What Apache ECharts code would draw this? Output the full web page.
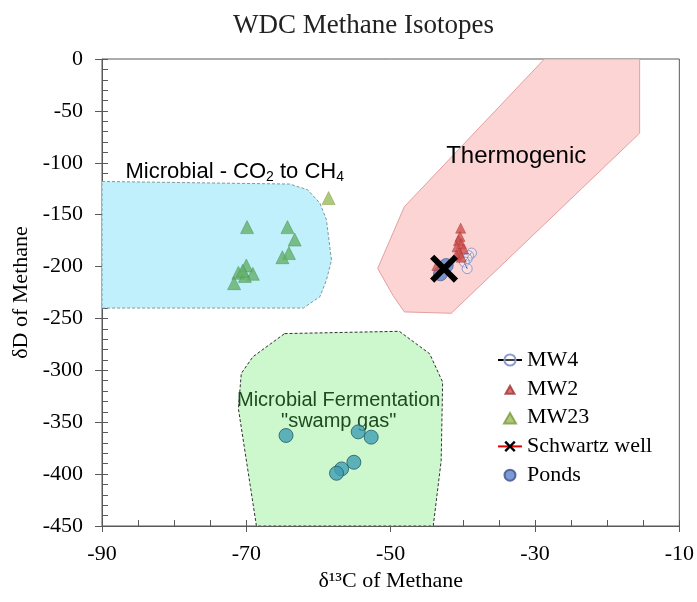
<!DOCTYPE html>
<html><head><meta charset="utf-8">
<script src="https://cdn.jsdelivr.net/npm/echarts@6/dist/echarts.min.js"></script>
<style>html,body{margin:0;padding:0;background:#fff}#c{width:697px;height:602px}</style>
</head><body><div id="c"></div>
<script>
// Axis ranges
const xRange = [-90, -10];
const yRange = [-450, 0];

// Source regions (d13C, dD)
const regionCO2 = [[-90,-118],[-64,-120.5],[-61.5,-126],[-59.8,-139],[-58.9,-155],[-58.2,-194],[-58.9,-213],[-59.8,-229],[-62.1,-240],[-90,-240]];
const regionThermo = [[-28.7,0],[-15.5,0],[-15.5,-71.5],[-41.6,-245],[-48.1,-243.7],[-49.7,-227.6],[-51.8,-201.8],[-48.1,-142.3]];
const regionFerment = [[-64.7,-264.6],[-48.8,-262.4],[-44.6,-284],[-42.8,-311.3],[-43.0,-387],[-44.1,-450],[-68.6,-450],[-71.1,-337],[-70.7,-303],[-69.1,-287]];

// Samples (d13C, dD)
const mw4 = [[-38.8,-187],[-39.2,-189.5],[-39.4,-192.5],[-39.8,-195.5],[-39.4,-202]];
const mw2 = [[-40.3,-163],[-40.4,-171],[-40.6,-175],[-40.2,-178],[-40.8,-181],[-39.9,-183],[-40.5,-187],[-40.9,-189],[-40.2,-191],[-43.6,-199]];
const mw23 = [[-58.6,-134]];
const mw23Microbial = [[-69.9,-162],[-64.3,-162],[-63.3,-174],[-64.1,-187],[-65.0,-191],[-70.0,-199],[-69.1,-207],[-71.1,-206],[-70.2,-209],[-71.7,-216],[-70.5,-204]];
const schwartzWell = [[-42.6,-202]];
const pondsThermo = [[-42.3,-199],[-43.1,-207]];
const pondsSwamp = [[-64.5,-362.8],[-54.5,-359.3],[-52.7,-364.4],[-55.1,-388.6],[-56.8,-395],[-57.5,-399.2]];

// Legend entries
const legendNames = ['MW4','MW2','MW23','Schwartz well','Ponds'];

// Region annotations
const annotations = [
  {coord:[-32.6,-94], text:'Thermogenic', style:'thermo'},
  {coord:[-71.6,-108.8], text:'{a|Microbial - CO}{s|2}{a| to CH}{s|4}', style:'co2'},
  {coord:[-57.2,-339], text:'Microbial Fermentation\n"swamp gas"', style:'ferm'}
];

const serif = '"Liberation Serif","Times New Roman",serif';
const sans = '"Liberation Sans",Arial,sans-serif';

function regionSeries(points, fill, stroke, dash) {
  return {
    type:'custom', silent:true, z:1, clip:true,
    data:[[points[0][0], points[0][1]]],
    renderItem:function(params, api){
      return {type:'polygon', shape:{points: points.map(function(p){return api.coord(p);})},
        style:{fill:fill, stroke:stroke, lineWidth:1, lineDash:dash}};
    }
  };
}

const textStyles = {
  thermo:{fontFamily:sans, fontSize:24, fill:'#000'},
  co2:{fontFamily:sans, fontSize:22, fill:'#000', rich:{a:{fontFamily:sans, fontSize:22, color:'#000'}, s:{fontFamily:sans, fontSize:14, color:'#000', padding:[10,0,0,0]}}},
  ferm:{fontFamily:sans, fontSize:20, fill:'#1f4a1f', lineHeight:21}
};

const legendIcons = {
  'MW2':'path://M0,0M24,14M7.5,12L12,4L16.5,12Z',
  'MW23':'path://M0,0M24,14M6,13L12,2.5L18,13Z',
  'Ponds':'path://M0,0M24,14M6.5,7A5.5,5.5,0,1,1,17.5,7A5.5,5.5,0,1,1,6.5,7Z'
};

const chart = echarts.init(document.getElementById('c'));
const xTickCommon = {min:xRange[0], max:xRange[1], interval:20, type:'value'};
const yTickCommon = {min:yRange[0], max:yRange[1], interval:50, type:'value'};

chart.setOption({
  animation:false,
  backgroundColor:'#fff',
  title:{text:'WDC Methane Isotopes', left:228, top:7, textStyle:{fontFamily:serif, fontSize:27, fontWeight:'normal', color:'#222'}},
  grid:{left:102, right:17, top:59, bottom:76, show:true, borderColor:'#595959', borderWidth:1},
  legend:{
    orient:'vertical', left:492, top:344, itemWidth:24, itemHeight:14, itemGap:6.8,
    selectedMode:false,
    data:legendNames.map(function(n){ return legendIcons[n] ? {name:n, icon:legendIcons[n]} : {name:n}; }),
    textStyle:{fontFamily:serif, fontSize:22, color:'#000', lineHeight:22}
  },
  xAxis:[
    Object.assign({}, xTickCommon, {
      name:'δ¹³C of Methane', nameLocation:'middle', nameGap:43,
      nameTextStyle:{fontFamily:serif, fontSize:22, color:'#000'},
      axisLine:{show:true, onZero:false, lineStyle:{color:'#595959', width:1}},
      axisTick:{show:true, inside:true, length:6, lineStyle:{color:'#595959'}},
      minorTick:{show:true, splitNumber:4, length:6, lineStyle:{color:'#595959'}},
      axisLabel:{fontFamily:serif, fontSize:22, color:'#000', margin:17},
      splitLine:{show:false}
    }),
    Object.assign({}, xTickCommon, {
      position:'bottom', axisLine:{show:false, onZero:false},
      axisTick:{show:true, inside:false, length:6, lineStyle:{color:'#595959'}},
      axisLabel:{show:false}, splitLine:{show:false}
    })
  ],
  yAxis:[
    Object.assign({}, yTickCommon, {
      name:'δD of Methane', nameLocation:'middle', nameGap:66,
      nameTextStyle:{fontFamily:serif, fontSize:22, color:'#000'},
      axisLine:{show:true, onZero:false, lineStyle:{color:'#595959', width:1}},
      axisTick:{show:true, inside:true, length:6, lineStyle:{color:'#595959'}},
      minorTick:{show:true, splitNumber:5, length:6, lineStyle:{color:'#595959'}},
      axisLabel:{fontFamily:serif, fontSize:22, color:'#000', margin:19},
      splitLine:{show:false}
    }),
    Object.assign({}, yTickCommon, {
      position:'left', axisLine:{show:false, onZero:false},
      axisTick:{show:true, inside:false, length:7, lineStyle:{color:'#595959'}},
      axisLabel:{show:false}, splitLine:{show:false}
    })
  ],
  series:[
    regionSeries(regionCO2, '#c0f0fb', '#7f9a9a', [3,2]),
    regionSeries(regionThermo, '#fcd4d4', '#e4a0a0', null),
    regionSeries(regionFerment, '#cdf7cd', '#333333', [3,2]),
    {
      type:'custom', silent:true, z:2, data:annotations.map(function(a){return a.coord;}),
      renderItem:function(params, api){
        const a = annotations[params.dataIndex];
        const p = api.coord(a.coord);
        return {type:'text', x:p[0], y:p[1], style:Object.assign({text:a.text, align:'center', verticalAlign:'middle'}, textStyles[a.style])};
      }
    },
    {name:'MW23', type:'scatter', z:5, data:mw23, symbol:'triangle', symbolSize:13,
      itemStyle:{color:'#9bbb59', borderColor:'#7b9a40', borderWidth:0.6}},
    {name:'MW23', type:'scatter', z:5, data:mw23Microbial, symbol:'triangle', symbolSize:13,
      itemStyle:{color:'#63b06a', borderColor:'#4a9052', borderWidth:0.6}},
    {name:'Ponds', type:'scatter', z:4, data:pondsThermo, symbol:'circle', symbolSize:14,
      itemStyle:{color:'#5b82cc', borderColor:'#3a4f8a', borderWidth:0.8}},
    {name:'Ponds', type:'scatter', z:4, data:pondsSwamp, symbol:'circle', symbolSize:14,
      itemStyle:{color:'#3f9fb2', borderColor:'#245a68', borderWidth:1}},
    {name:'MW4', type:'line', z:6, data:mw4, symbol:'circle', symbolSize:10, showSymbol:true,
      lineStyle:{color:'#000', width:1},
      itemStyle:{color:'rgba(255,255,255,0.25)', borderColor:'#8e9bd0', borderWidth:1}},
    {name:'MW2', type:'scatter', z:7, data:mw2, symbol:'triangle', symbolSize:10,
      itemStyle:{color:'#d0504d', borderColor:'#a03535', borderWidth:0.6}},
    {name:'Schwartz well', type:'line', z:8, data:schwartzWell,
      symbol:'path://M0,3 L3,0 L10,7 L17,0 L20,3 L13,10 L20,17 L17,20 L10,13 L3,20 L0,17 L7,10 Z',
      symbolSize:28, showSymbol:true,
      lineStyle:{color:'#e00000', width:3},
      itemStyle:{color:'#000', borderWidth:0}}
  ]
});
</script></body></html>
